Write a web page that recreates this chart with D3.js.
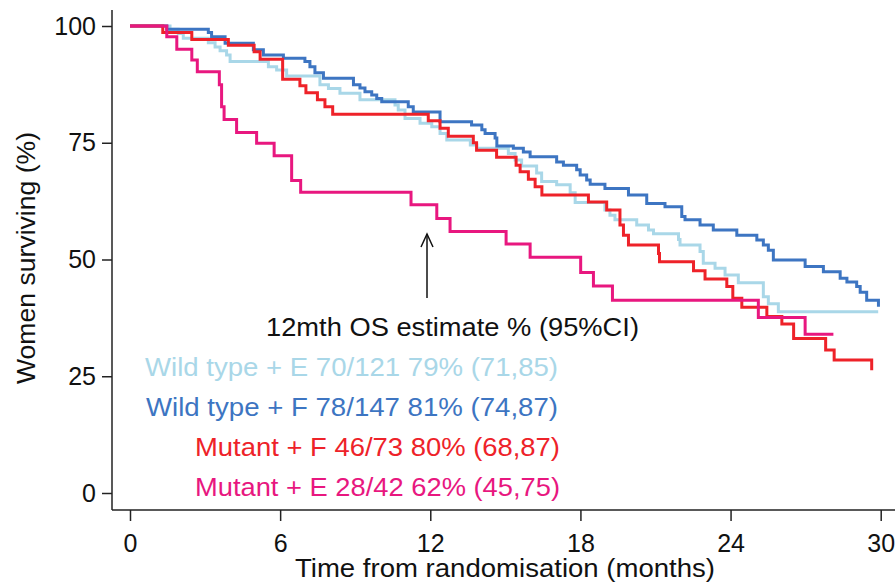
<!DOCTYPE html>
<html>
<meta charset="utf-8">
<style>
body { margin: 0; background: #fff; }
text { font-family: Arial, "Liberation Sans", sans-serif; }
</style>
<body>
<script src="https://d3js.org/d3.v7.min.js"></script>
<script>
// Kaplan-Meier steps (time in months, % surviving)
var wtETimes = [0, 1.6, 1.93, 2.13, 3.13, 3.4, 3.6, 3.86, 4.0, 5.53, 5.86, 6.26, 7.59, 7.93, 8.39, 9.19, 10.59, 10.72, 10.99, 11.59, 12.06, 12.39, 12.66, 13.6, 13.86, 15.12, 15.39, 15.65, 16.25, 16.45, 17.05, 17.59, 17.79, 18.98, 19.18, 19.38, 20.25, 20.72, 20.92, 21.92, 21.98, 22.78, 22.91, 23.38, 23.78, 24.31, 25.31, 25.51, 25.91, 29.9];
var wtESurv  = [100, 99.3, 98.4, 97.4, 96.4, 95.5, 94.7, 93.8, 92.4, 91.3, 90.6, 89.3, 87.4, 86.6, 85.6, 84.2, 83.1, 82.0, 80.2, 79.2, 78.4, 77.0, 75.6, 74.5, 73.8, 72.7, 71.3, 70.0, 68.5, 66.7, 66.0, 64.3, 62.2, 60.6, 59.5, 58.5, 57.4, 56.3, 55.5, 54.3, 53.1, 51.7, 49.2, 48.1, 46.7, 45.0, 42.0, 40.5, 38.8, 38.8];

var wtFTimes = [0, 1.47, 3.13, 3.26, 3.8, 4.93, 5.33, 6.13, 6.99, 7.19, 7.39, 7.73, 8.93, 9.19, 9.39, 9.66, 9.86, 10.06, 11.12, 11.32, 12.39, 13.65, 14.06, 14.19, 14.59, 14.66, 15.32, 15.72, 15.99, 17.05, 17.32, 17.85, 17.99, 18.25, 18.39, 18.98, 19.92, 20.65, 21.38, 22.05, 22.18, 22.78, 23.31, 24.25, 25.05, 25.31, 25.51, 25.71, 26.98, 27.71, 28.38, 28.65, 29.04, 29.18, 29.44, 29.91];
var wtFSurv  = [100, 99.3, 98.6, 97.7, 96.3, 94.9, 93.8, 93.1, 92.4, 91.3, 90.0, 88.8, 87.4, 86.7, 85.9, 85.2, 84.5, 83.8, 82.7, 81.6, 79.5, 78.8, 77.8, 77.0, 76.0, 74.3, 73.8, 73.0, 72.0, 70.9, 70.2, 69.2, 68.1, 67.0, 66.1, 65.2, 63.8, 62.0, 61.3, 59.2, 58.5, 57.4, 56.3, 55.2, 54.2, 53.1, 52.0, 49.9, 48.5, 47.4, 46.0, 45.2, 44.2, 43.0, 41.3, 39.9];

var mutFTimes = [0, 1.31, 2.47, 3.93, 4.96, 5.2, 6.1, 6.79, 7.03, 7.49, 7.79, 8.1, 11.92, 12.39, 12.72, 13.72, 13.85, 14.65, 15.43, 15.59, 15.92, 16.19, 16.46, 18.32, 19.05, 19.58, 19.72, 19.92, 21.12, 21.16, 22.52, 22.98, 23.85, 24.09, 24.45, 25.45, 26.05, 26.52, 27.8, 28.14, 29.64];
var mutFSurv  = [100, 98.6, 97.1, 95.9, 94.5, 92.9, 88.6, 87.2, 85.7, 84.2, 82.7, 81.1, 79.7, 78.1, 76.4, 75.0, 73.4, 71.9, 70.2, 68.8, 67.2, 65.6, 63.8, 62.3, 60.6, 57.4, 55.2, 53.1, 51.3, 49.5, 47.6, 45.8, 44.2, 41.7, 39.8, 37.8, 36.2, 33.1, 30.6, 28.5, 26.3];

var mutETimes = [0, 1.47, 1.87, 2.47, 2.69, 3.57, 3.66, 3.76, 4.26, 5.06, 5.76, 6.46, 6.82, 11.23, 12.26, 12.79, 15.03, 15.99, 18.01, 18.52, 19.28, 25.11, 26.98, 28.11];
var mutESurv  = [100, 97.7, 95.0, 92.7, 90.2, 87.4, 82.7, 80.0, 77.2, 74.9, 72.2, 66.9, 64.4, 61.7, 58.8, 56.0, 53.3, 50.5, 47.2, 44.3, 41.3, 37.6, 34.0, 34.0];

var groupNames = ["Wild type + E 70/121 79% (71,85)", "Wild type + F 78/147 81% (74,87)",
                  "Mutant + F 46/73 80% (68,87)", "Mutant + E 28/42 62% (45,75)"];
var groupColors = ["#a9d7e8", "#3d75c2", "#ee2229", "#e8177f"];
var legendTitle = "12mth OS estimate % (95%CI)";

var xTicks = [0, 6, 12, 18, 24, 30];
var yTicks = [0, 25, 50, 75, 100];

var width = 895, height = 583;

var svg = d3.select("body").append("svg")
    .attr("width", width)
    .attr("height", height);

var x = d3.scaleLinear().domain([0, 30]).range([130, 880.7]);
var y = d3.scaleLinear().domain([0, 100]).range([493, 26]);

var axisX0 = 112, axisY0 = 510;

// axis lines
svg.append("line")
    .attr("x1", axisX0).attr("x2", axisX0)
    .attr("y1", 10).attr("y2", axisY0)
    .attr("stroke", "#222").attr("stroke-width", 1.5);
svg.append("line")
    .attr("x1", axisX0).attr("x2", 895)
    .attr("y1", axisY0).attr("y2", axisY0)
    .attr("stroke", "#222").attr("stroke-width", 1.5);

// y axis
var yAxis = svg.append("g")
    .attr("transform", "translate(" + axisX0 + ",0)")
    .call(d3.axisLeft(y).tickValues(yTicks).tickSize(10).tickPadding(6));
yAxis.select(".domain").remove();
yAxis.selectAll("line").attr("stroke", "#222").attr("stroke-width", 1.5);
yAxis.selectAll("text")
    .style("font-size", "25px").style("font-family", "Arial, 'Liberation Sans', sans-serif")
    .attr("fill", "#111");

// x axis
var xAxis = svg.append("g")
    .attr("transform", "translate(0," + axisY0 + ")")
    .call(d3.axisBottom(x).tickValues(xTicks).tickSize(11).tickPadding(13));
xAxis.select(".domain").remove();
xAxis.selectAll("line").attr("stroke", "#222").attr("stroke-width", 1.5);
xAxis.selectAll("text")
    .style("font-size", "25px").style("font-family", "Arial, 'Liberation Sans', sans-serif")
    .attr("fill", "#111");

// axis titles (the source font runs a little wider than Arial)
svg.append("text")
    .attr("x", 505).attr("y", 577)
    .attr("text-anchor", "middle")
    .attr("textLength", 420).attr("lengthAdjust", "spacingAndGlyphs")
    .style("font-size", "25px")
    .attr("fill", "#111")
    .text("Time from randomisation (months)");

svg.append("text")
    .attr("transform", "translate(35,258) rotate(-90)")
    .attr("text-anchor", "middle")
    .attr("textLength", 252).attr("lengthAdjust", "spacingAndGlyphs")
    .style("font-size", "25px")
    .attr("fill", "#111")
    .text("Women surviving (%)");

// curves
var series = [
  {t: wtETimes, s: wtESurv},
  {t: wtFTimes, s: wtFSurv},
  {t: mutFTimes, s: mutFSurv},
  {t: mutETimes, s: mutESurv}
];

var line = d3.line()
    .x(function(d) { return x(d[0]); })
    .y(function(d) { return y(d[1]); })
    .curve(d3.curveStepAfter);

series.forEach(function(sr, i) {
  var pts = sr.t.map(function(t, j) { return [t, sr.s[j]]; });
  svg.append("path")
      .datum(pts)
      .attr("d", line)
      .attr("fill", "none")
      .attr("stroke", groupColors[i])
      .attr("stroke-width", 3);
});

// arrow pointing at 12 months
var ax = 427;
svg.append("line")
    .attr("x1", ax).attr("x2", ax)
    .attr("y1", 234).attr("y2", 298)
    .attr("stroke", "#111").attr("stroke-width", 1.5);
svg.append("path")
    .attr("d", "M" + (ax - 6) + ",247 L" + ax + ",234 L" + (ax + 6) + ",247")
    .attr("fill", "none").attr("stroke", "#111").attr("stroke-width", 1.5);

// legend block
svg.append("text")
    .attr("x", 266).attr("y", 336)
    .attr("textLength", 373).attr("lengthAdjust", "spacingAndGlyphs")
    .style("font-size", "25px")
    .attr("fill", "#111")
    .text(legendTitle);

var legendX = [145, 146, 195, 195];
var legendLen = [413, 412, 365, 365];
groupNames.forEach(function(name, i) {
  svg.append("text")
      .attr("x", legendX[i]).attr("y", 376 + i * 40)
      .attr("textLength", legendLen[i]).attr("lengthAdjust", "spacingAndGlyphs")
      .style("font-size", "25px")
      .attr("fill", groupColors[i])
      .text(name);
});
</script>
</body>
</html>
